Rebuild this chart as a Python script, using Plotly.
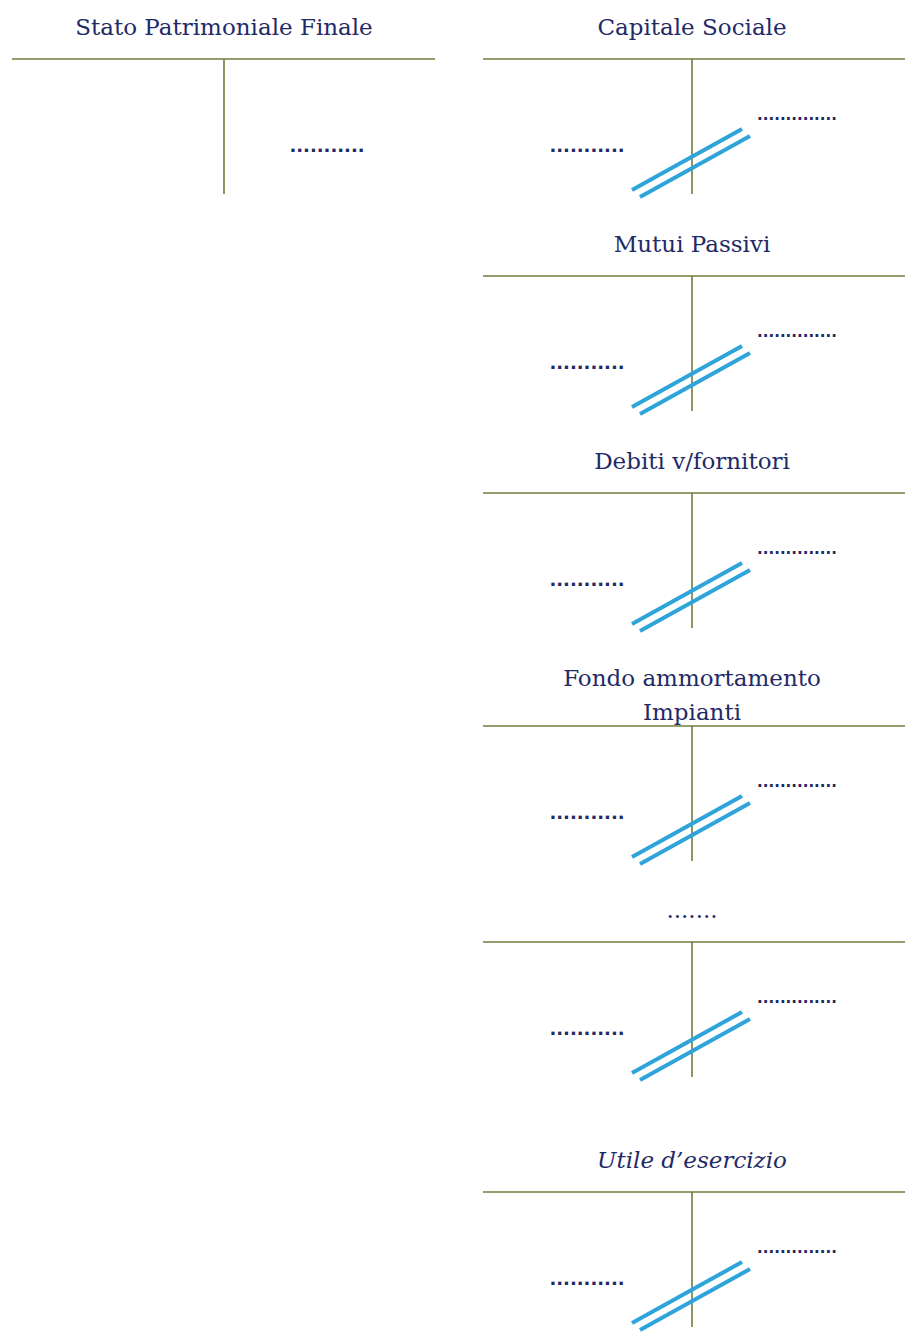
import plotly.graph_objects as go

# ---- data ----
left_account = "Stato Patrimoniale Finale"
right_accounts = ["Capitale Sociale", "Mutui Passivi", "Debiti v/fornitori",
                  "Fondo ammortamento|Impianti", ".......", "Utile d’esercizio"]
italic_flags = [False, False, False, False, False, True]
dare_placeholder = "..........."
avere_placeholder = ".............."

# ---- layout parameters (pixel space) ----
W, H = 915, 1344
PAGE_MARGIN = 8  # default body margin of the html page
left_col = dict(cx=224, x0=12, x1=435)
right_col = dict(cx=692, x0=483, x1=905)
left_line_y = 59
right_line_ys = [59, 276, 493, 726, 942, 1192]
v_len = 135
TITLE_COLOR = "#1F2A66"
T_COLOR = "#6F7D3C"
SLASH_COLOR = "#2FA4DA"
DOT_COLOR = "#1F2A66"
FONT = "DejaVu Serif"

fig = go.Figure()
shapes = []

def add_t(col, line_y):
    shapes.append(dict(type="line", x0=col["x0"], x1=col["x1"], y0=line_y, y1=line_y,
                       line=dict(color=T_COLOR, width=1.6)))
    shapes.append(dict(type="line", x0=col["cx"], x1=col["cx"], y0=line_y, y1=line_y + v_len,
                       line=dict(color=T_COLOR, width=1.6)))

def add_title(cx, line_y, title, italic):
    lines = title.split("|")
    n = len(lines)
    for i, t in enumerate(lines):
        if n == 1:
            y = line_y - 30
        else:
            y = line_y - 12 - (n - 1 - i) * 34
        txt = f"<i>{t}</i>" if italic else t
        fig.add_trace(go.Scatter(x=[cx], y=[y], mode="text", text=[txt],
                                 textfont=dict(family=FONT, size=23, color=TITLE_COLOR),
                                 textposition="middle center", hoverinfo="skip", showlegend=False))

def add_dots(x, y, txt, size, bold):
    t = f"<b>{txt}</b>" if bold else txt
    fig.add_trace(go.Scatter(x=[x], y=[y], mode="text", text=[t],
                             textfont=dict(family="DejaVu Sans", size=size, color=DOT_COLOR),
                             textposition="middle center", hoverinfo="skip", showlegend=False))

def add_slashes(cx, line_y):
    for dx, dy in [(0, 0), (8, 7)]:
        shapes.append(dict(type="line", x0=cx - 60 + dx, y0=line_y + 131 + dy,
                           x1=cx + 50 + dx, y1=line_y + 70 + dy,
                           line=dict(color=SLASH_COLOR, width=4)))

# left account
add_t(left_col, left_line_y)
add_title(left_col["cx"], left_line_y, left_account, False)
add_dots(left_col["cx"] + 103, left_line_y + 88, dare_placeholder, 18, True)

# right accounts
for name, it, ly in zip(right_accounts, italic_flags, right_line_ys):
    cx = right_col["cx"]
    add_t(right_col, ly)
    add_title(cx, ly, name, it)
    add_dots(cx - 105, ly + 88, dare_placeholder, 18, True)
    add_dots(cx + 105, ly + 57, avere_placeholder, 15, True)
    add_slashes(cx, ly)

fig.update_layout(
    width=W - 2 * PAGE_MARGIN, height=H - 2 * PAGE_MARGIN,
    margin=dict(l=0, r=0, t=0, b=0),
    paper_bgcolor="white", plot_bgcolor="white", shapes=shapes,
    xaxis=dict(range=[PAGE_MARGIN, W - PAGE_MARGIN], visible=False, fixedrange=True),
    yaxis=dict(range=[H - PAGE_MARGIN, PAGE_MARGIN], visible=False, fixedrange=True),
)
fig.write_html("out.html")
